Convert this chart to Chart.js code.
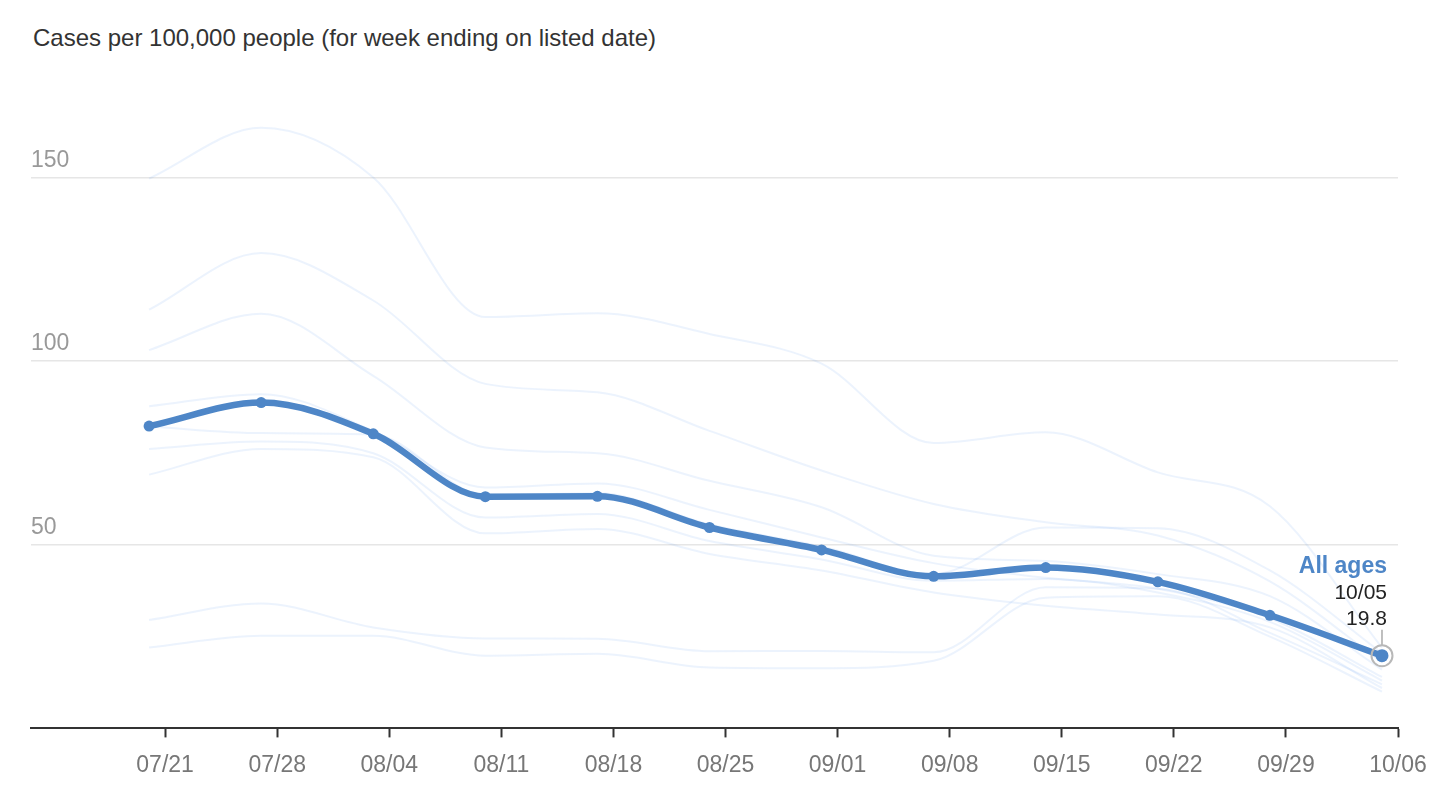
<!DOCTYPE html>
<html>
<head>
<meta charset="utf-8">
<script src="https://cdn.jsdelivr.net/npm/chart.js@4.4.1/dist/chart.umd.min.js"></script>
<style>
  html, body { margin: 0; padding: 0; background: #fff; }
  #title { position: absolute; left: 33px; top: 26px; font: 24px "Liberation Sans", Arial, Helvetica, sans-serif; line-height: 24px; color: #333; white-space: nowrap; }
  #c { position: absolute; left: 0; top: 0; }
</style>
</head>
<body>
<div id="title">Cases per 100,000 people (for week ending on listed date)</div>
<canvas id="c" width="1444" height="804"></canvas>
<script>
// ---- data ----
const dates = ['07/20','07/27','08/03','08/10','08/17','08/24','08/31','09/07','09/14','09/21','09/28','10/05'];
const allAges = [82.3, 88.7, 80.2, 63.1, 63.2, 54.7, 48.6, 41.4, 43.8, 39.9, 30.8, 19.8];

const ageGroupA = [149.7, 163.5, 150.0, 112.0, 113.0, 107.4, 99.3, 77.7, 80.6, 69.7, 60.5, 22.0];
const ageGroupB = [114.0, 129.4, 116.5, 93.8, 91.5, 81.0, 70.2, 61.1, 56.1, 52.5, 40.0, 18.0];
const ageGroupC = [103.0, 112.9, 96.0, 76.5, 74.9, 67.4, 60.2, 47.0, 45.6, 42.0, 36.0, 16.0];
const ageGroupD = [87.7, 91.0, 81.0, 65.6, 66.7, 59.5, 52.0, 45.0, 41.0, 38.0, 30.0, 14.0];
const ageGroupE = [82.2, 80.4, 80.0, 63.5, 64.0, 55.5, 49.5, 42.0, 54.7, 54.5, 43.0, 20.5];
const ageGroupF = [76.1, 78.1, 74.9, 57.4, 58.4, 51.0, 46.0, 40.2, 40.7, 37.0, 29.0, 13.0];
const ageGroupG = [69.1, 76.1, 73.8, 53.1, 54.3, 47.5, 43.0, 37.0, 33.4, 31.0, 27.5, 11.0];
const ageGroupH = [29.5, 34.0, 27.5, 24.5, 24.4, 21.0, 21.1, 20.7, 38.4, 38.0, 26.0, 12.0];
const ageGroupI = [22.0, 25.2, 25.2, 19.8, 20.3, 16.6, 16.4, 18.4, 35.6, 36.0, 25.0, 10.0];
const ageGroups = [ageGroupA, ageGroupB, ageGroupC, ageGroupD, ageGroupE, ageGroupF, ageGroupG, ageGroupH, ageGroupI];

const xTickLabels = ['07/21','07/28','08/04','08/11','08/18','08/25','09/01','09/08','09/15','09/22','09/29','10/06'];
const yTickValues = [50, 100, 150];

// ---- helpers ----
const YEAR = 2021;
const baseDay = Date.UTC(YEAR, 6, 20);
function toDay(s) { const [m, d] = s.split('/').map(Number); return (Date.UTC(YEAR, m - 1, d) - baseDay) / 864e5; }
const toPoints = arr => arr.map((v, i) => ({ x: toDay(dates[i]), y: v }));

const FONT = '"Liberation Sans", Arial, Helvetica, sans-serif';
const MAIN = '#4e86c7';
const FAINT = 'rgba(80,150,235,0.11)';
const lastIdx = allAges.length - 1;

const endLabel = {
  id: 'endLabel',
  afterDatasetsDraw(chart) {
    const p = chart.getDatasetMeta(0).data[lastIdx];
    if (!p) return;
    const ctx = chart.ctx;
    const x = p.x, y = p.y;
    ctx.save();
    ctx.beginPath();
    ctx.arc(x, y, 10.5, 0, Math.PI * 2);
    ctx.strokeStyle = '#b8b8b8';
    ctx.lineWidth = 2;
    ctx.stroke();
    ctx.beginPath();
    ctx.moveTo(x, y - 11);
    ctx.lineTo(x, y - 26);
    ctx.strokeStyle = '#aaa';
    ctx.lineWidth = 1.5;
    ctx.stroke();
    ctx.textAlign = 'right';
    ctx.textBaseline = 'alphabetic';
    ctx.font = 'bold 23px ' + FONT;
    ctx.fillStyle = MAIN;
    ctx.fillText('All ages', x + 5, y - 83);
    ctx.font = '21px ' + FONT;
    ctx.fillStyle = '#222';
    ctx.fillText(dates[lastIdx], x + 5, y - 57);
    ctx.fillText(allAges[lastIdx].toFixed(1), x + 5, y - 31);
    ctx.restore();
  }
};

const datasets = [{
  label: 'All ages',
  data: toPoints(allAges),
  borderColor: MAIN,
  borderWidth: 6.5,
  pointRadius: ctx => ctx.dataIndex === lastIdx ? 6.5 : 5.5,
  pointBackgroundColor: MAIN,
  pointBorderWidth: 0,
  cubicInterpolationMode: 'monotone',
  order: 0
}].concat(ageGroups.map(a => ({
  data: toPoints(a),
  borderColor: FAINT,
  borderWidth: 2,
  pointRadius: 0,
  cubicInterpolationMode: 'monotone',
  order: 1
})));

new Chart(document.getElementById('c'), {
  type: 'line',
  data: { datasets },
  options: {
    responsive: false,
    animation: false,
    events: [],
    layout: { padding: { left: 31, right: 46, top: 104, bottom: 11 } },
    plugins: { legend: { display: false }, tooltip: { enabled: false } },
    scales: {
      x: {
        type: 'linear',
        min: -7.375,
        max: toDay(xTickLabels[xTickLabels.length - 1]),
        afterBuildTicks: s => { s.ticks = xTickLabels.map(l => ({ value: toDay(l) })); },
        ticks: {
          callback: (v, i) => xTickLabels[i],
          font: { family: FONT, size: 23 },
          color: '#777',
          padding: 14,
          maxRotation: 0,
          autoSkip: false
        },
        grid: { drawOnChartArea: false, drawTicks: true, tickLength: 9, tickWidth: 2, tickColor: '#333', color: '#333' },
        border: { display: true, color: '#333', width: 2 }
      },
      y: {
        min: 0,
        max: 170,
        afterBuildTicks: s => { s.ticks = [0].concat(yTickValues).map(v => ({ value: v })); },
        ticks: {
          mirror: true,
          padding: 0,
          labelOffset: -17,
          color: '#999',
          font: { family: FONT, size: 23 },
          callback: v => v === 0 ? '' : String(v)
        },
        grid: {
          drawTicks: false,
          lineWidth: 1.5,
          color: ctx => (ctx.tick && ctx.tick.value === 0) ? 'rgba(0,0,0,0)' : '#e6e6e6'
        },
        border: { display: false }
      }
    }
  },
  plugins: [endLabel]
});
</script>
</body>
</html>
